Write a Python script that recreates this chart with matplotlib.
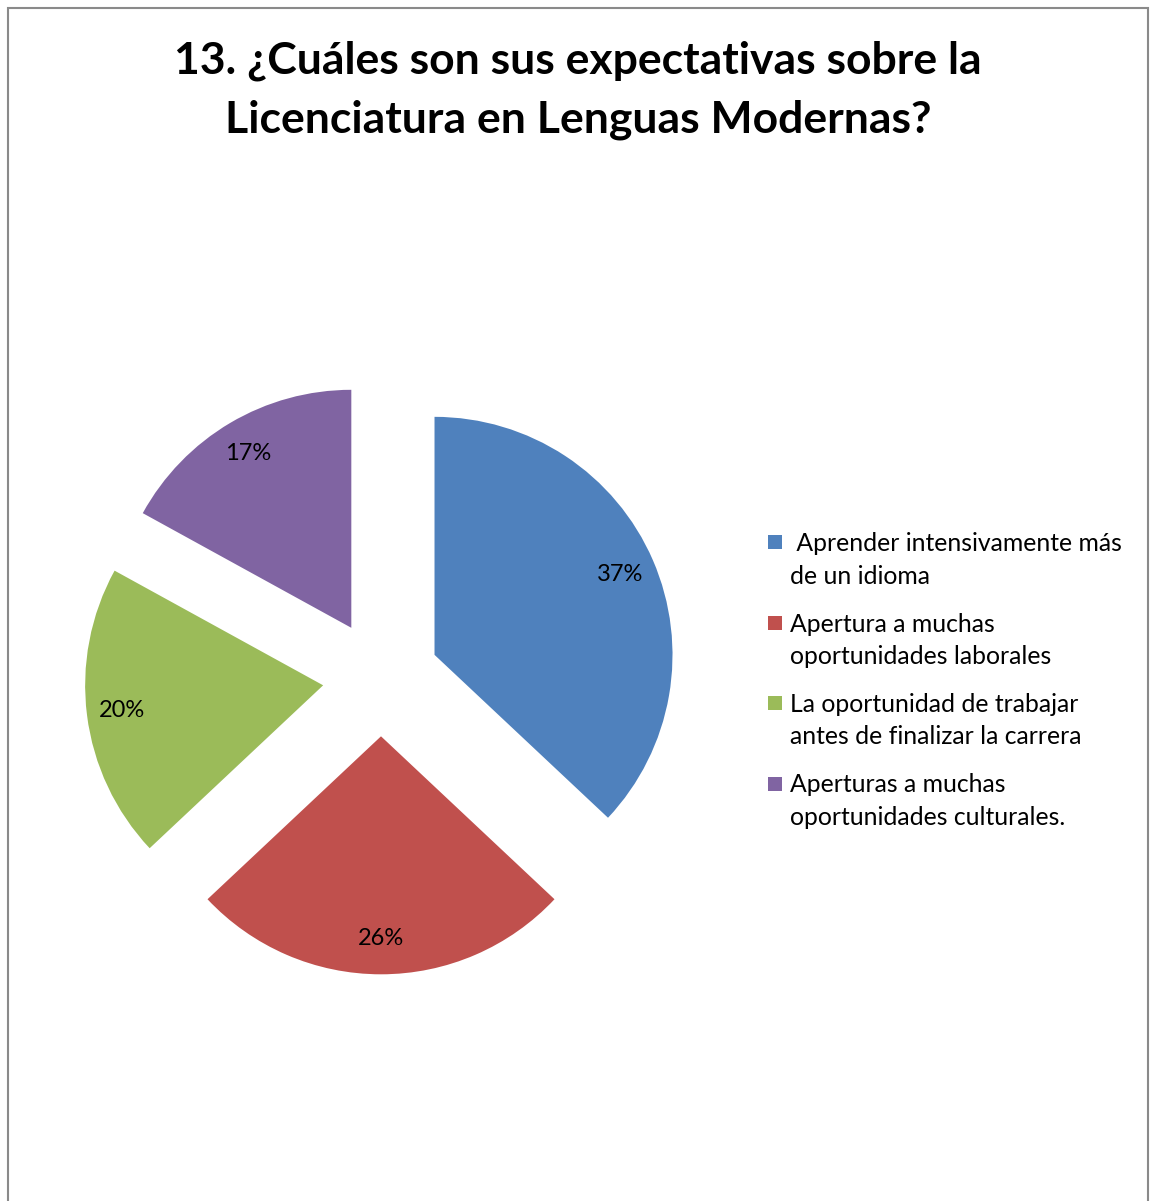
import matplotlib.pyplot as plt
from matplotlib.patches import Rectangle

# datos de la encuesta
categorias = [" Aprender intensivamente más\nde un idioma",
              "Apertura a muchas\noportunidades laborales",
              "La oportunidad de trabajar\nantes de finalizar la carrera",
              "Aperturas a muchas\noportunidades culturales."]
valores = [37, 26, 20, 17]
colores = ["#4F81BD", "#C0504D", "#9BBB59", "#8064A2"]
titulo = "13. ¿Cuáles son sus expectativas sobre la\nLicenciatura en Lenguas Modernas?"

plt.rcParams["font.family"] = ["Lato", "DejaVu Sans"]

W, H = 1151, 1201
fig = plt.figure(figsize=(W / 100, H / 100), dpi=100)

# marco gris
fig.patches.append(Rectangle((8 / W, -0.01), 1140 / W, (H - 8) / H + 0.01,
                             transform=fig.transFigure, fill=False,
                             edgecolor="#8a8a8a", linewidth=1.5))

fig.text(578 / W, 1 - 90 / H, titulo, ha="center", va="center",
         fontsize=32, fontweight="bold", linespacing=1.55)

# eje del pastel: centro (381, 678) px, radio 238 px
cx, cy, R = 381, 678, 238
half = 1.5 * R
ax = fig.add_axes([(cx - half) / W, 1 - (cy + half) / H, 2 * half / W, 2 * half / H])
ax.pie(valores, colors=colores, startangle=90, counterclock=False,
       explode=[0.245] * 4, autopct="%1.0f%%", pctdistance=0.85,
       textprops={"fontsize": 17, "color": "black"})
ax.set_xlim(-1.5, 1.5)
ax.set_ylim(-1.5, 1.5)
ax.set_aspect("equal")
ax.axis("off")

# leyenda manual
y0 = 542
for i, (cat, col) in enumerate(zip(categorias, colores)):
    y = y0 + i * 80.5
    fig.patches.append(Rectangle((768 / W, 1 - (y + 7) / H), 14 / W, 14 / H,
                                 transform=fig.transFigure, facecolor=col,
                                 edgecolor="none"))
    fig.text(790 / W, 1 - (y - 10) / H, cat, ha="left", va="top",
             fontsize=17.8, linespacing=1.5)

fig.savefig("out.png", dpi=100)
